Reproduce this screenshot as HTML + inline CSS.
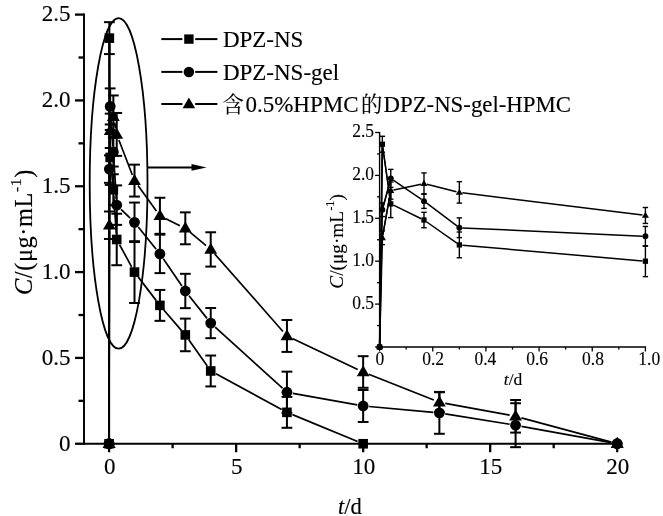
<!DOCTYPE html>
<html lang="zh"><head><meta charset="utf-8"><title>DPZ-NS release</title>
<style>html,body{margin:0;padding:0;background:#fff}svg{display:block}</style></head>
<body>
<svg width="663" height="516" viewBox="0 0 663 516" font-family="Liberation Serif, 'Noto Serif CJK SC', serif" fill="#000" stroke="#000">
<rect x="0" y="0" width="663" height="516" fill="#fff" stroke="none"/>
<g id="main-axes">
<line x1="84" y1="13.6" x2="84" y2="444.75" stroke-width="1.95"/>
<line x1="83" y1="443.75" x2="618.2" y2="443.75" stroke-width="1.95"/>
<line x1="75" y1="443.75" x2="84" y2="443.75" stroke-width="2.3"/>
<line x1="78.5" y1="400.83" x2="84" y2="400.83" stroke-width="2.3"/>
<line x1="75" y1="357.92" x2="84" y2="357.92" stroke-width="2.3"/>
<line x1="78.5" y1="315" x2="84" y2="315" stroke-width="2.3"/>
<line x1="75" y1="272.09" x2="84" y2="272.09" stroke-width="2.3"/>
<line x1="78.5" y1="229.18" x2="84" y2="229.18" stroke-width="2.3"/>
<line x1="75" y1="186.26" x2="84" y2="186.26" stroke-width="2.3"/>
<line x1="78.5" y1="143.35" x2="84" y2="143.35" stroke-width="2.3"/>
<line x1="75" y1="100.43" x2="84" y2="100.43" stroke-width="2.3"/>
<line x1="78.5" y1="57.51" x2="84" y2="57.51" stroke-width="2.3"/>
<line x1="75" y1="14.6" x2="84" y2="14.6" stroke-width="2.3"/>
<line x1="109.1" y1="443.75" x2="109.1" y2="452.25" stroke-width="2.3"/>
<line x1="172.61" y1="443.75" x2="172.61" y2="448.25" stroke-width="2.3"/>
<line x1="236.12" y1="443.75" x2="236.12" y2="452.25" stroke-width="2.3"/>
<line x1="299.64" y1="443.75" x2="299.64" y2="448.25" stroke-width="2.3"/>
<line x1="363.15" y1="443.75" x2="363.15" y2="452.25" stroke-width="2.3"/>
<line x1="426.66" y1="443.75" x2="426.66" y2="448.25" stroke-width="2.3"/>
<line x1="490.18" y1="443.75" x2="490.18" y2="452.25" stroke-width="2.3"/>
<line x1="553.69" y1="443.75" x2="553.69" y2="448.25" stroke-width="2.3"/>
<line x1="617.2" y1="443.75" x2="617.2" y2="452.25" stroke-width="2.3"/>
</g>
<g id="main-ticklabels" font-size="23" stroke="#000" stroke-width="0.15">
<text x="70.4" y="450.55" text-anchor="end">0</text>
<text x="70.4" y="364.72" text-anchor="end">0.5</text>
<text x="70.4" y="278.89" text-anchor="end">1.0</text>
<text x="70.4" y="193.06" text-anchor="end">1.5</text>
<text x="70.4" y="107.23" text-anchor="end">2.0</text>
<text x="70.4" y="21.4" text-anchor="end">2.5</text>
<text x="109.7" y="474.3" text-anchor="middle">0</text>
<text x="236.72" y="474.3" text-anchor="middle">5</text>
<text x="363.75" y="474.3" text-anchor="middle">10</text>
<text x="490.78" y="474.3" text-anchor="middle">15</text>
<text x="617.8" y="474.3" text-anchor="middle">20</text>
</g>
<g id="titles" font-size="22.6" stroke="#000" stroke-width="0.15">
<text x="338" y="514"><tspan font-style="italic">t</tspan>/d</text>
<text transform="translate(32 295) rotate(-90)" font-size="24.3" letter-spacing="0.62"><tspan font-style="italic">C</tspan>/(μg·mL<tspan font-size="15.5" dy="-11">-1</tspan><tspan dy="11">)</tspan></text>
</g>
<ellipse cx="118.6" cy="183.4" rx="28.9" ry="165.3" fill="none" stroke-width="1.8"/>
<line x1="147.3" y1="167.4" x2="194" y2="167.4" stroke-width="2"/>
<polygon points="206.5,167.4 191.5,164.1 191.5,170.7" fill="#000" stroke="none"/>
<g id="main-series">
<line x1="109.1" y1="437.75" x2="109.36" y2="44.12" stroke-width="1.7"/>
<line x1="109.4" y1="44.12" x2="110.13" y2="151.42" stroke-width="1.7"/>
<line x1="110.75" y1="163.39" x2="112.76" y2="183.72" stroke-width="1.7"/>
<line x1="113.75" y1="195.68" x2="116.32" y2="233.49" stroke-width="1.7"/>
<line x1="119.59" y1="244.74" x2="131.63" y2="266.82" stroke-width="1.7"/>
<line x1="138.14" y1="276.86" x2="156.27" y2="300.62" stroke-width="1.7"/>
<line x1="163.82" y1="309.94" x2="181.4" y2="330.37" stroke-width="1.7"/>
<line x1="188.77" y1="339.82" x2="207.26" y2="366.06" stroke-width="1.7"/>
<line x1="215.99" y1="373.83" x2="281.66" y2="409.47" stroke-width="1.7"/>
<line x1="292.48" y1="414.62" x2="357.6" y2="441.46" stroke-width="1.7"/>
<line x1="109.36" y1="22.15" x2="109.36" y2="54.08" stroke-width="2"/>
<line x1="103.96" y1="22.15" x2="114.76" y2="22.15" stroke-width="2"/>
<line x1="103.96" y1="54.08" x2="114.76" y2="54.08" stroke-width="2"/>
<line x1="110.17" y1="129.96" x2="110.17" y2="184.89" stroke-width="2"/>
<line x1="104.77" y1="129.96" x2="115.57" y2="129.96" stroke-width="2"/>
<line x1="104.77" y1="184.89" x2="115.57" y2="184.89" stroke-width="2"/>
<line x1="113.34" y1="174.24" x2="113.34" y2="205.14" stroke-width="2"/>
<line x1="107.94" y1="174.24" x2="118.74" y2="174.24" stroke-width="2"/>
<line x1="107.94" y1="205.14" x2="118.74" y2="205.14" stroke-width="2"/>
<line x1="116.72" y1="213.73" x2="116.72" y2="265.22" stroke-width="2"/>
<line x1="111.32" y1="213.73" x2="122.12" y2="213.73" stroke-width="2"/>
<line x1="111.32" y1="265.22" x2="122.12" y2="265.22" stroke-width="2"/>
<line x1="134.5" y1="241.19" x2="134.5" y2="302.99" stroke-width="2"/>
<line x1="129.1" y1="241.19" x2="139.91" y2="241.19" stroke-width="2"/>
<line x1="129.1" y1="302.99" x2="139.91" y2="302.99" stroke-width="2"/>
<line x1="159.91" y1="289.94" x2="159.91" y2="320.84" stroke-width="2"/>
<line x1="154.51" y1="289.94" x2="165.31" y2="289.94" stroke-width="2"/>
<line x1="154.51" y1="320.84" x2="165.31" y2="320.84" stroke-width="2"/>
<line x1="185.31" y1="318.61" x2="185.31" y2="351.23" stroke-width="2"/>
<line x1="179.91" y1="318.61" x2="190.72" y2="318.61" stroke-width="2"/>
<line x1="179.91" y1="351.23" x2="190.72" y2="351.23" stroke-width="2"/>
<line x1="210.72" y1="355.52" x2="210.72" y2="386.42" stroke-width="2"/>
<line x1="205.32" y1="355.52" x2="216.12" y2="355.52" stroke-width="2"/>
<line x1="205.32" y1="386.42" x2="216.12" y2="386.42" stroke-width="2"/>
<line x1="286.94" y1="396.89" x2="286.94" y2="427.79" stroke-width="2"/>
<line x1="281.54" y1="396.89" x2="292.33" y2="396.89" stroke-width="2"/>
<line x1="281.54" y1="427.79" x2="292.33" y2="427.79" stroke-width="2"/>
<rect x="104.3" y="438.95" width="9.6" height="9.6" fill="#000" stroke="none"/>
<rect x="104.56" y="33.32" width="9.6" height="9.6" fill="#000" stroke="none"/>
<rect x="105.37" y="152.62" width="9.6" height="9.6" fill="#000" stroke="none"/>
<rect x="108.54" y="184.89" width="9.6" height="9.6" fill="#000" stroke="none"/>
<rect x="111.92" y="234.67" width="9.6" height="9.6" fill="#000" stroke="none"/>
<rect x="129.7" y="267.29" width="9.6" height="9.6" fill="#000" stroke="none"/>
<rect x="155.11" y="300.59" width="9.6" height="9.6" fill="#000" stroke="none"/>
<rect x="180.51" y="330.12" width="9.6" height="9.6" fill="#000" stroke="none"/>
<rect x="205.92" y="366.17" width="9.6" height="9.6" fill="#000" stroke="none"/>
<rect x="282.13" y="407.54" width="9.6" height="9.6" fill="#000" stroke="none"/>
<rect x="358.35" y="438.95" width="9.6" height="9.6" fill="#000" stroke="none"/>
<line x1="109.11" y1="437.75" x2="109.36" y2="175.09" stroke-width="1.7"/>
<line x1="109.44" y1="163.09" x2="110.09" y2="112.44" stroke-width="1.7"/>
<line x1="110.58" y1="112.42" x2="112.92" y2="145.94" stroke-width="1.7"/>
<line x1="113.72" y1="157.92" x2="116.34" y2="199.15" stroke-width="1.7"/>
<line x1="121.04" y1="209.31" x2="130.19" y2="218.14" stroke-width="1.7"/>
<line x1="138.27" y1="226.98" x2="156.15" y2="249.22" stroke-width="1.7"/>
<line x1="163.3" y1="258.84" x2="181.92" y2="286.02" stroke-width="1.7"/>
<line x1="189.04" y1="295.68" x2="207" y2="318.37" stroke-width="1.7"/>
<line x1="215.16" y1="327.11" x2="282.49" y2="388.22" stroke-width="1.7"/>
<line x1="292.84" y1="393.32" x2="357.25" y2="404.92" stroke-width="1.7"/>
<line x1="369.13" y1="406.52" x2="433.39" y2="412.31" stroke-width="1.7"/>
<line x1="445.29" y1="413.81" x2="509.66" y2="424.25" stroke-width="1.7"/>
<line x1="521.48" y1="426.29" x2="611.3" y2="442.67" stroke-width="1.7"/>
<line x1="109.36" y1="155.36" x2="109.36" y2="182.83" stroke-width="2"/>
<line x1="103.96" y1="155.36" x2="114.76" y2="155.36" stroke-width="2"/>
<line x1="103.96" y1="182.83" x2="114.76" y2="182.83" stroke-width="2"/>
<line x1="110.17" y1="88.41" x2="110.17" y2="124.46" stroke-width="2"/>
<line x1="104.77" y1="88.41" x2="115.57" y2="88.41" stroke-width="2"/>
<line x1="104.77" y1="124.46" x2="115.57" y2="124.46" stroke-width="2"/>
<line x1="113.34" y1="137.34" x2="113.34" y2="166.52" stroke-width="2"/>
<line x1="107.94" y1="137.34" x2="118.74" y2="137.34" stroke-width="2"/>
<line x1="107.94" y1="166.52" x2="118.74" y2="166.52" stroke-width="2"/>
<line x1="116.72" y1="185.4" x2="116.72" y2="224.88" stroke-width="2"/>
<line x1="111.32" y1="185.4" x2="122.12" y2="185.4" stroke-width="2"/>
<line x1="111.32" y1="224.88" x2="122.12" y2="224.88" stroke-width="2"/>
<line x1="134.5" y1="202.57" x2="134.5" y2="242.05" stroke-width="2"/>
<line x1="129.1" y1="202.57" x2="139.91" y2="202.57" stroke-width="2"/>
<line x1="129.1" y1="242.05" x2="139.91" y2="242.05" stroke-width="2"/>
<line x1="159.91" y1="234.67" x2="159.91" y2="273.12" stroke-width="2"/>
<line x1="154.51" y1="234.67" x2="165.31" y2="234.67" stroke-width="2"/>
<line x1="154.51" y1="273.12" x2="165.31" y2="273.12" stroke-width="2"/>
<line x1="185.31" y1="273.81" x2="185.31" y2="308.14" stroke-width="2"/>
<line x1="179.91" y1="273.81" x2="190.72" y2="273.81" stroke-width="2"/>
<line x1="179.91" y1="308.14" x2="190.72" y2="308.14" stroke-width="2"/>
<line x1="210.72" y1="307.97" x2="210.72" y2="338.18" stroke-width="2"/>
<line x1="205.32" y1="307.97" x2="216.12" y2="307.97" stroke-width="2"/>
<line x1="205.32" y1="338.18" x2="216.12" y2="338.18" stroke-width="2"/>
<line x1="286.94" y1="371.65" x2="286.94" y2="412.85" stroke-width="2"/>
<line x1="281.54" y1="371.65" x2="292.33" y2="371.65" stroke-width="2"/>
<line x1="281.54" y1="412.85" x2="292.33" y2="412.85" stroke-width="2"/>
<line x1="363.15" y1="390.02" x2="363.15" y2="421.95" stroke-width="2"/>
<line x1="357.75" y1="390.02" x2="368.55" y2="390.02" stroke-width="2"/>
<line x1="357.75" y1="421.95" x2="368.55" y2="421.95" stroke-width="2"/>
<line x1="439.37" y1="391.91" x2="439.37" y2="433.79" stroke-width="2"/>
<line x1="433.97" y1="391.91" x2="444.76" y2="391.91" stroke-width="2"/>
<line x1="433.97" y1="433.79" x2="444.76" y2="433.79" stroke-width="2"/>
<line x1="515.58" y1="403.24" x2="515.58" y2="447.18" stroke-width="2"/>
<line x1="510.18" y1="403.24" x2="520.98" y2="403.24" stroke-width="2"/>
<line x1="510.18" y1="447.18" x2="520.98" y2="447.18" stroke-width="2"/>
<circle cx="109.1" cy="443.75" r="5.4" fill="#000" stroke="none"/>
<circle cx="109.36" cy="169.09" r="5.4" fill="#000" stroke="none"/>
<circle cx="110.17" cy="106.44" r="5.4" fill="#000" stroke="none"/>
<circle cx="113.34" cy="151.93" r="5.4" fill="#000" stroke="none"/>
<circle cx="116.72" cy="205.14" r="5.4" fill="#000" stroke="none"/>
<circle cx="134.5" cy="222.31" r="5.4" fill="#000" stroke="none"/>
<circle cx="159.91" cy="253.89" r="5.4" fill="#000" stroke="none"/>
<circle cx="185.31" cy="290.97" r="5.4" fill="#000" stroke="none"/>
<circle cx="210.72" cy="323.07" r="5.4" fill="#000" stroke="none"/>
<circle cx="286.94" cy="392.25" r="5.4" fill="#000" stroke="none"/>
<circle cx="363.15" cy="405.98" r="5.4" fill="#000" stroke="none"/>
<circle cx="439.37" cy="412.85" r="5.4" fill="#000" stroke="none"/>
<circle cx="515.58" cy="425.21" r="5.4" fill="#000" stroke="none"/>
<circle cx="617.2" cy="443.75" r="5.4" fill="#000" stroke="none"/>
<line x1="109.11" y1="437.75" x2="109.36" y2="231.23" stroke-width="1.7"/>
<line x1="109.42" y1="219.23" x2="110.12" y2="136.81" stroke-width="1.7"/>
<line x1="111.49" y1="124.96" x2="112.02" y2="122.59" stroke-width="1.7"/>
<line x1="114.47" y1="122.63" x2="115.6" y2="128.53" stroke-width="1.7"/>
<line x1="118.88" y1="140.02" x2="132.35" y2="175" stroke-width="1.7"/>
<line x1="138.02" y1="185.46" x2="156.4" y2="210.92" stroke-width="1.7"/>
<line x1="165.29" y1="218.44" x2="179.93" y2="225.66" stroke-width="1.7"/>
<line x1="189.93" y1="232.15" x2="206.11" y2="245.6" stroke-width="1.7"/>
<line x1="214.69" y1="253.93" x2="282.97" y2="331.45" stroke-width="1.7"/>
<line x1="292.36" y1="338.51" x2="357.73" y2="369.43" stroke-width="1.7"/>
<line x1="368.73" y1="374.21" x2="433.79" y2="400" stroke-width="1.7"/>
<line x1="445.27" y1="403.3" x2="509.68" y2="415.19" stroke-width="1.7"/>
<line x1="521.37" y1="417.85" x2="611.41" y2="442.18" stroke-width="1.7"/>
<line x1="109.36" y1="211.49" x2="109.36" y2="238.96" stroke-width="2"/>
<line x1="103.96" y1="211.49" x2="114.76" y2="211.49" stroke-width="2"/>
<line x1="103.96" y1="238.96" x2="114.76" y2="238.96" stroke-width="2"/>
<line x1="110.17" y1="113.65" x2="110.17" y2="147.98" stroke-width="2"/>
<line x1="104.77" y1="113.65" x2="115.57" y2="113.65" stroke-width="2"/>
<line x1="104.77" y1="147.98" x2="115.57" y2="147.98" stroke-width="2"/>
<line x1="113.34" y1="95.45" x2="113.34" y2="138.02" stroke-width="2"/>
<line x1="107.94" y1="95.45" x2="118.74" y2="95.45" stroke-width="2"/>
<line x1="107.94" y1="138.02" x2="118.74" y2="138.02" stroke-width="2"/>
<line x1="116.72" y1="112.96" x2="116.72" y2="155.88" stroke-width="2"/>
<line x1="111.32" y1="112.96" x2="122.12" y2="112.96" stroke-width="2"/>
<line x1="111.32" y1="155.88" x2="122.12" y2="155.88" stroke-width="2"/>
<line x1="134.5" y1="164.63" x2="134.5" y2="196.56" stroke-width="2"/>
<line x1="129.1" y1="164.63" x2="139.91" y2="164.63" stroke-width="2"/>
<line x1="129.1" y1="196.56" x2="139.91" y2="196.56" stroke-width="2"/>
<line x1="159.91" y1="197.76" x2="159.91" y2="233.81" stroke-width="2"/>
<line x1="154.51" y1="197.76" x2="165.31" y2="197.76" stroke-width="2"/>
<line x1="154.51" y1="233.81" x2="165.31" y2="233.81" stroke-width="2"/>
<line x1="185.31" y1="212.35" x2="185.31" y2="244.28" stroke-width="2"/>
<line x1="179.91" y1="212.35" x2="190.72" y2="212.35" stroke-width="2"/>
<line x1="179.91" y1="244.28" x2="190.72" y2="244.28" stroke-width="2"/>
<line x1="210.72" y1="232.26" x2="210.72" y2="266.6" stroke-width="2"/>
<line x1="205.32" y1="232.26" x2="216.12" y2="232.26" stroke-width="2"/>
<line x1="205.32" y1="266.6" x2="216.12" y2="266.6" stroke-width="2"/>
<line x1="286.94" y1="319.98" x2="286.94" y2="351.91" stroke-width="2"/>
<line x1="281.54" y1="319.98" x2="292.33" y2="319.98" stroke-width="2"/>
<line x1="281.54" y1="351.91" x2="292.33" y2="351.91" stroke-width="2"/>
<line x1="363.15" y1="356.2" x2="363.15" y2="387.79" stroke-width="2"/>
<line x1="357.75" y1="356.2" x2="368.55" y2="356.2" stroke-width="2"/>
<line x1="357.75" y1="387.79" x2="368.55" y2="387.79" stroke-width="2"/>
<line x1="439.37" y1="392.25" x2="439.37" y2="412.16" stroke-width="2"/>
<line x1="433.97" y1="392.25" x2="444.76" y2="392.25" stroke-width="2"/>
<line x1="433.97" y1="412.16" x2="444.76" y2="412.16" stroke-width="2"/>
<line x1="515.58" y1="399.98" x2="515.58" y2="432.59" stroke-width="2"/>
<line x1="510.18" y1="399.98" x2="520.98" y2="399.98" stroke-width="2"/>
<line x1="510.18" y1="432.59" x2="520.98" y2="432.59" stroke-width="2"/>
<polygon points="109.1,437.05 115.5,448.05 102.7,448.05" fill="#000" stroke="none"/>
<polygon points="109.36,218.53 115.76,229.53 102.96,229.53" fill="#000" stroke="none"/>
<polygon points="110.17,124.11 116.57,135.11 103.77,135.11" fill="#000" stroke="none"/>
<polygon points="113.34,110.04 119.74,121.04 106.94,121.04" fill="#000" stroke="none"/>
<polygon points="116.72,127.72 123.12,138.72 110.32,138.72" fill="#000" stroke="none"/>
<polygon points="134.5,173.9 140.91,184.9 128.1,184.9" fill="#000" stroke="none"/>
<polygon points="159.91,209.09 166.31,220.09 153.51,220.09" fill="#000" stroke="none"/>
<polygon points="185.31,221.62 191.72,232.62 178.91,232.62" fill="#000" stroke="none"/>
<polygon points="210.72,242.73 217.12,253.73 204.32,253.73" fill="#000" stroke="none"/>
<polygon points="286.94,329.25 293.33,340.25 280.54,340.25" fill="#000" stroke="none"/>
<polygon points="363.15,365.3 369.55,376.3 356.75,376.3" fill="#000" stroke="none"/>
<polygon points="439.37,395.51 445.76,406.51 432.97,406.51" fill="#000" stroke="none"/>
<polygon points="515.58,409.58 521.98,420.58 509.18,420.58" fill="#000" stroke="none"/>
<polygon points="617.2,437.05 623.6,448.05 610.8,448.05" fill="#000" stroke="none"/>
<line x1="109.1" y1="443.75" x2="109.36" y2="38.12" stroke-width="2"/>
<circle cx="109.1" cy="443.75" r="5.4" fill="#000" stroke="none"/>
<polygon points="109.1,437.05 115.5,448.05 102.7,448.05" fill="#000" stroke="none"/>
<circle cx="617.2" cy="443.75" r="5.4" fill="#000" stroke="none"/>
<polygon points="617.2,437.05 623.6,448.05 610.8,448.05" fill="#000" stroke="none"/>
</g>
<g id="legend">
<line x1="161.3" y1="39.1" x2="182.4" y2="39.1" stroke-width="2"/>
<line x1="195.2" y1="39.1" x2="217.4" y2="39.1" stroke-width="2"/>
<rect x="184.22" y="34.42" width="9.36" height="9.36" fill="#000" stroke="none"/>
<line x1="161.3" y1="71.9" x2="182.4" y2="71.9" stroke-width="2"/>
<line x1="195.2" y1="71.9" x2="217.4" y2="71.9" stroke-width="2"/>
<circle cx="188.9" cy="71.9" r="5.27" fill="#000" stroke="none"/>
<line x1="161.3" y1="104" x2="182.4" y2="104" stroke-width="2"/>
<line x1="195.2" y1="104" x2="217.4" y2="104" stroke-width="2"/>
<polygon points="188.9,97.47 195.14,108.19 182.66,108.19" fill="#000" stroke="none"/>
<g font-size="23" stroke="#000" stroke-width="0.15">
<text x="222.9" y="47">DPZ-NS</text>
<text x="222.9" y="80.3">DPZ-NS-gel</text>
<text x="222.6" y="111.9" font-size="21.3">含</text>
<text x="245.4" y="112.2">0.5%HPMC</text>
<text x="360.9" y="111.9" font-size="21.3">的</text>
<text x="383.5" y="112.2" font-size="22.8">DPZ-NS-gel-HPMC</text>
</g></g>
<g id="inset">
<line x1="379.6" y1="131.9" x2="379.6" y2="347.6" stroke-width="1.4"/>
<line x1="379" y1="347" x2="646" y2="347" stroke-width="1.4"/>
<line x1="375.1" y1="347" x2="379.6" y2="347" stroke-width="1.3"/>
<line x1="377" y1="325.55" x2="379.6" y2="325.55" stroke-width="1.3"/>
<line x1="375.1" y1="304.1" x2="379.6" y2="304.1" stroke-width="1.3"/>
<line x1="377" y1="282.65" x2="379.6" y2="282.65" stroke-width="1.3"/>
<line x1="375.1" y1="261.2" x2="379.6" y2="261.2" stroke-width="1.3"/>
<line x1="377" y1="239.75" x2="379.6" y2="239.75" stroke-width="1.3"/>
<line x1="375.1" y1="218.3" x2="379.6" y2="218.3" stroke-width="1.3"/>
<line x1="377" y1="196.85" x2="379.6" y2="196.85" stroke-width="1.3"/>
<line x1="375.1" y1="175.4" x2="379.6" y2="175.4" stroke-width="1.3"/>
<line x1="377" y1="153.95" x2="379.6" y2="153.95" stroke-width="1.3"/>
<line x1="375.1" y1="132.5" x2="379.6" y2="132.5" stroke-width="1.3"/>
<line x1="379.6" y1="347" x2="379.6" y2="351.5" stroke-width="1.3"/>
<line x1="406.18" y1="347" x2="406.18" y2="349.6" stroke-width="1.3"/>
<line x1="432.76" y1="347" x2="432.76" y2="351.5" stroke-width="1.3"/>
<line x1="459.34" y1="347" x2="459.34" y2="349.6" stroke-width="1.3"/>
<line x1="485.92" y1="347" x2="485.92" y2="351.5" stroke-width="1.3"/>
<line x1="512.5" y1="347" x2="512.5" y2="349.6" stroke-width="1.3"/>
<line x1="539.08" y1="347" x2="539.08" y2="351.5" stroke-width="1.3"/>
<line x1="565.66" y1="347" x2="565.66" y2="349.6" stroke-width="1.3"/>
<line x1="592.24" y1="347" x2="592.24" y2="351.5" stroke-width="1.3"/>
<line x1="618.82" y1="347" x2="618.82" y2="349.6" stroke-width="1.3"/>
<line x1="645.4" y1="347" x2="645.4" y2="351.5" stroke-width="1.3"/>
<g font-size="17.5" stroke="#000" stroke-width="0.12">
<text transform="translate(374 309) scale(1 1.07)" text-anchor="end">0.5</text>
<text transform="translate(374 266.1) scale(1 1.07)" text-anchor="end">1.0</text>
<text transform="translate(374 223.2) scale(1 1.07)" text-anchor="end">1.5</text>
<text transform="translate(374 180.3) scale(1 1.07)" text-anchor="end">2.0</text>
<text transform="translate(374 137.4) scale(1 1.07)" text-anchor="end">2.5</text>
<text transform="translate(379.8 364.9) scale(1 1.07)" text-anchor="middle">0</text>
<text transform="translate(433.06 364.9) scale(1 1.07)" text-anchor="middle">0.2</text>
<text transform="translate(485.42 364.9) scale(1 1.07)" text-anchor="middle">0.4</text>
<text transform="translate(537.08 364.9) scale(1 1.07)" text-anchor="middle">0.6</text>
<text transform="translate(592.94 364.9) scale(1 1.07)" text-anchor="middle">0.8</text>
<text transform="translate(649.2 364.9) scale(1 1.07)" text-anchor="middle">1.0</text>
<text x="513" y="385.4" text-anchor="middle"><tspan font-style="italic">t</tspan>/d</text>
<text transform="translate(342.9 288.7) rotate(-90)" font-size="19.3" letter-spacing="0"><tspan font-style="italic">C</tspan>/(μg·mL<tspan font-size="12.3" dy="-8.6">-1</tspan><tspan dy="8.6">)</tspan></text>
</g>
<line x1="379.64" y1="344" x2="382.32" y2="147.25" stroke-width="1.5"/>
<line x1="382.78" y1="147.23" x2="390.35" y2="200.91" stroke-width="1.5"/>
<line x1="393.46" y1="205.2" x2="421.29" y2="218.71" stroke-width="1.5"/>
<line x1="426.44" y1="221.74" x2="456.89" y2="243.17" stroke-width="1.5"/>
<line x1="462.33" y1="245.16" x2="642.41" y2="260.94" stroke-width="1.5"/>
<line x1="382.36" y1="136.28" x2="382.36" y2="152.23" stroke-width="1.4"/>
<line x1="379.66" y1="136.28" x2="385.06" y2="136.28" stroke-width="1.4"/>
<line x1="379.66" y1="152.23" x2="385.06" y2="152.23" stroke-width="1.4"/>
<line x1="390.76" y1="190.16" x2="390.76" y2="217.61" stroke-width="1.4"/>
<line x1="388.06" y1="190.16" x2="393.46" y2="190.16" stroke-width="1.4"/>
<line x1="388.06" y1="217.61" x2="393.46" y2="217.61" stroke-width="1.4"/>
<line x1="423.99" y1="212.29" x2="423.99" y2="227.74" stroke-width="1.4"/>
<line x1="421.29" y1="212.29" x2="426.69" y2="212.29" stroke-width="1.4"/>
<line x1="421.29" y1="227.74" x2="426.69" y2="227.74" stroke-width="1.4"/>
<line x1="459.34" y1="232.03" x2="459.34" y2="257.77" stroke-width="1.4"/>
<line x1="456.64" y1="232.03" x2="462.04" y2="232.03" stroke-width="1.4"/>
<line x1="456.64" y1="257.77" x2="462.04" y2="257.77" stroke-width="1.4"/>
<line x1="645.4" y1="245.76" x2="645.4" y2="276.64" stroke-width="1.4"/>
<line x1="642.7" y1="245.76" x2="648.1" y2="245.76" stroke-width="1.4"/>
<line x1="642.7" y1="276.64" x2="648.1" y2="276.64" stroke-width="1.4"/>
<rect x="376.96" y="344.36" width="5.28" height="5.28" fill="#000" stroke="none"/>
<rect x="379.72" y="141.61" width="5.28" height="5.28" fill="#000" stroke="none"/>
<rect x="388.12" y="201.25" width="5.28" height="5.28" fill="#000" stroke="none"/>
<rect x="421.35" y="217.38" width="5.28" height="5.28" fill="#000" stroke="none"/>
<rect x="456.7" y="242.26" width="5.28" height="5.28" fill="#000" stroke="none"/>
<rect x="642.76" y="258.56" width="5.28" height="5.28" fill="#000" stroke="none"/>
<line x1="379.66" y1="344" x2="382.3" y2="212.72" stroke-width="1.5"/>
<line x1="383.14" y1="206.82" x2="389.99" y2="181.3" stroke-width="1.5"/>
<line x1="393.24" y1="180.1" x2="421.51" y2="199.45" stroke-width="1.5"/>
<line x1="426.39" y1="202.94" x2="456.94" y2="225.93" stroke-width="1.5"/>
<line x1="462.34" y1="227.88" x2="642.4" y2="236.18" stroke-width="1.5"/>
<line x1="382.36" y1="202.86" x2="382.36" y2="216.58" stroke-width="1.4"/>
<line x1="379.66" y1="202.86" x2="385.06" y2="202.86" stroke-width="1.4"/>
<line x1="379.66" y1="216.58" x2="385.06" y2="216.58" stroke-width="1.4"/>
<line x1="390.76" y1="169.39" x2="390.76" y2="187.41" stroke-width="1.4"/>
<line x1="388.06" y1="169.39" x2="393.46" y2="169.39" stroke-width="1.4"/>
<line x1="388.06" y1="187.41" x2="393.46" y2="187.41" stroke-width="1.4"/>
<line x1="423.99" y1="193.85" x2="423.99" y2="208.43" stroke-width="1.4"/>
<line x1="421.29" y1="193.85" x2="426.69" y2="193.85" stroke-width="1.4"/>
<line x1="421.29" y1="208.43" x2="426.69" y2="208.43" stroke-width="1.4"/>
<line x1="459.34" y1="217.87" x2="459.34" y2="237.61" stroke-width="1.4"/>
<line x1="456.64" y1="217.87" x2="462.04" y2="217.87" stroke-width="1.4"/>
<line x1="456.64" y1="237.61" x2="462.04" y2="237.61" stroke-width="1.4"/>
<line x1="645.4" y1="226.45" x2="645.4" y2="246.19" stroke-width="1.4"/>
<line x1="642.7" y1="226.45" x2="648.1" y2="226.45" stroke-width="1.4"/>
<line x1="642.7" y1="246.19" x2="648.1" y2="246.19" stroke-width="1.4"/>
<circle cx="379.6" cy="347" r="2.97" fill="#000" stroke="none"/>
<circle cx="382.36" cy="209.72" r="2.97" fill="#000" stroke="none"/>
<circle cx="390.76" cy="178.4" r="2.97" fill="#000" stroke="none"/>
<circle cx="423.99" cy="201.14" r="2.97" fill="#000" stroke="none"/>
<circle cx="459.34" cy="227.74" r="2.97" fill="#000" stroke="none"/>
<circle cx="645.4" cy="236.32" r="2.97" fill="#000" stroke="none"/>
<line x1="379.68" y1="344" x2="382.29" y2="240.78" stroke-width="1.5"/>
<line x1="382.89" y1="234.82" x2="390.24" y2="193.54" stroke-width="1.5"/>
<line x1="393.7" y1="189.97" x2="421.05" y2="184.17" stroke-width="1.5"/>
<line x1="426.9" y1="184.28" x2="456.43" y2="191.66" stroke-width="1.5"/>
<line x1="462.32" y1="192.76" x2="642.42" y2="215.1" stroke-width="1.5"/>
<line x1="382.36" y1="230.91" x2="382.36" y2="244.64" stroke-width="1.4"/>
<line x1="379.66" y1="230.91" x2="385.06" y2="230.91" stroke-width="1.4"/>
<line x1="379.66" y1="244.64" x2="385.06" y2="244.64" stroke-width="1.4"/>
<line x1="390.76" y1="182.01" x2="390.76" y2="199.17" stroke-width="1.4"/>
<line x1="388.06" y1="182.01" x2="393.46" y2="182.01" stroke-width="1.4"/>
<line x1="388.06" y1="199.17" x2="393.46" y2="199.17" stroke-width="1.4"/>
<line x1="423.99" y1="172.91" x2="423.99" y2="194.19" stroke-width="1.4"/>
<line x1="421.29" y1="172.91" x2="426.69" y2="172.91" stroke-width="1.4"/>
<line x1="421.29" y1="194.19" x2="426.69" y2="194.19" stroke-width="1.4"/>
<line x1="459.34" y1="181.66" x2="459.34" y2="203.11" stroke-width="1.4"/>
<line x1="456.64" y1="181.66" x2="462.04" y2="181.66" stroke-width="1.4"/>
<line x1="456.64" y1="203.11" x2="462.04" y2="203.11" stroke-width="1.4"/>
<line x1="645.4" y1="207.49" x2="645.4" y2="223.45" stroke-width="1.4"/>
<line x1="642.7" y1="207.49" x2="648.1" y2="207.49" stroke-width="1.4"/>
<line x1="642.7" y1="223.45" x2="648.1" y2="223.45" stroke-width="1.4"/>
<polygon points="379.6,343.31 383.12,349.37 376.08,349.37" fill="#000" stroke="none"/>
<polygon points="382.36,234.09 385.88,240.14 378.84,240.14" fill="#000" stroke="none"/>
<polygon points="390.76,186.9 394.28,192.95 387.24,192.95" fill="#000" stroke="none"/>
<polygon points="423.99,179.87 427.51,185.92 420.47,185.92" fill="#000" stroke="none"/>
<polygon points="459.34,188.7 462.86,194.75 455.82,194.75" fill="#000" stroke="none"/>
<polygon points="645.4,211.78 648.92,217.83 641.88,217.83" fill="#000" stroke="none"/>
<line x1="379.6" y1="347" x2="382.36" y2="144.25" stroke-width="1.6"/>
<line x1="382.36" y1="144.25" x2="390.76" y2="203.89" stroke-width="1.3"/>
<line x1="382.36" y1="209.72" x2="390.76" y2="179.18" stroke-width="1.3"/>
<line x1="382.36" y1="237.18" x2="390.76" y2="189.99" stroke-width="1.3"/>
<circle cx="379.6" cy="347" r="2.97" fill="#000" stroke="none"/>
</g>
</svg>
</body></html>
